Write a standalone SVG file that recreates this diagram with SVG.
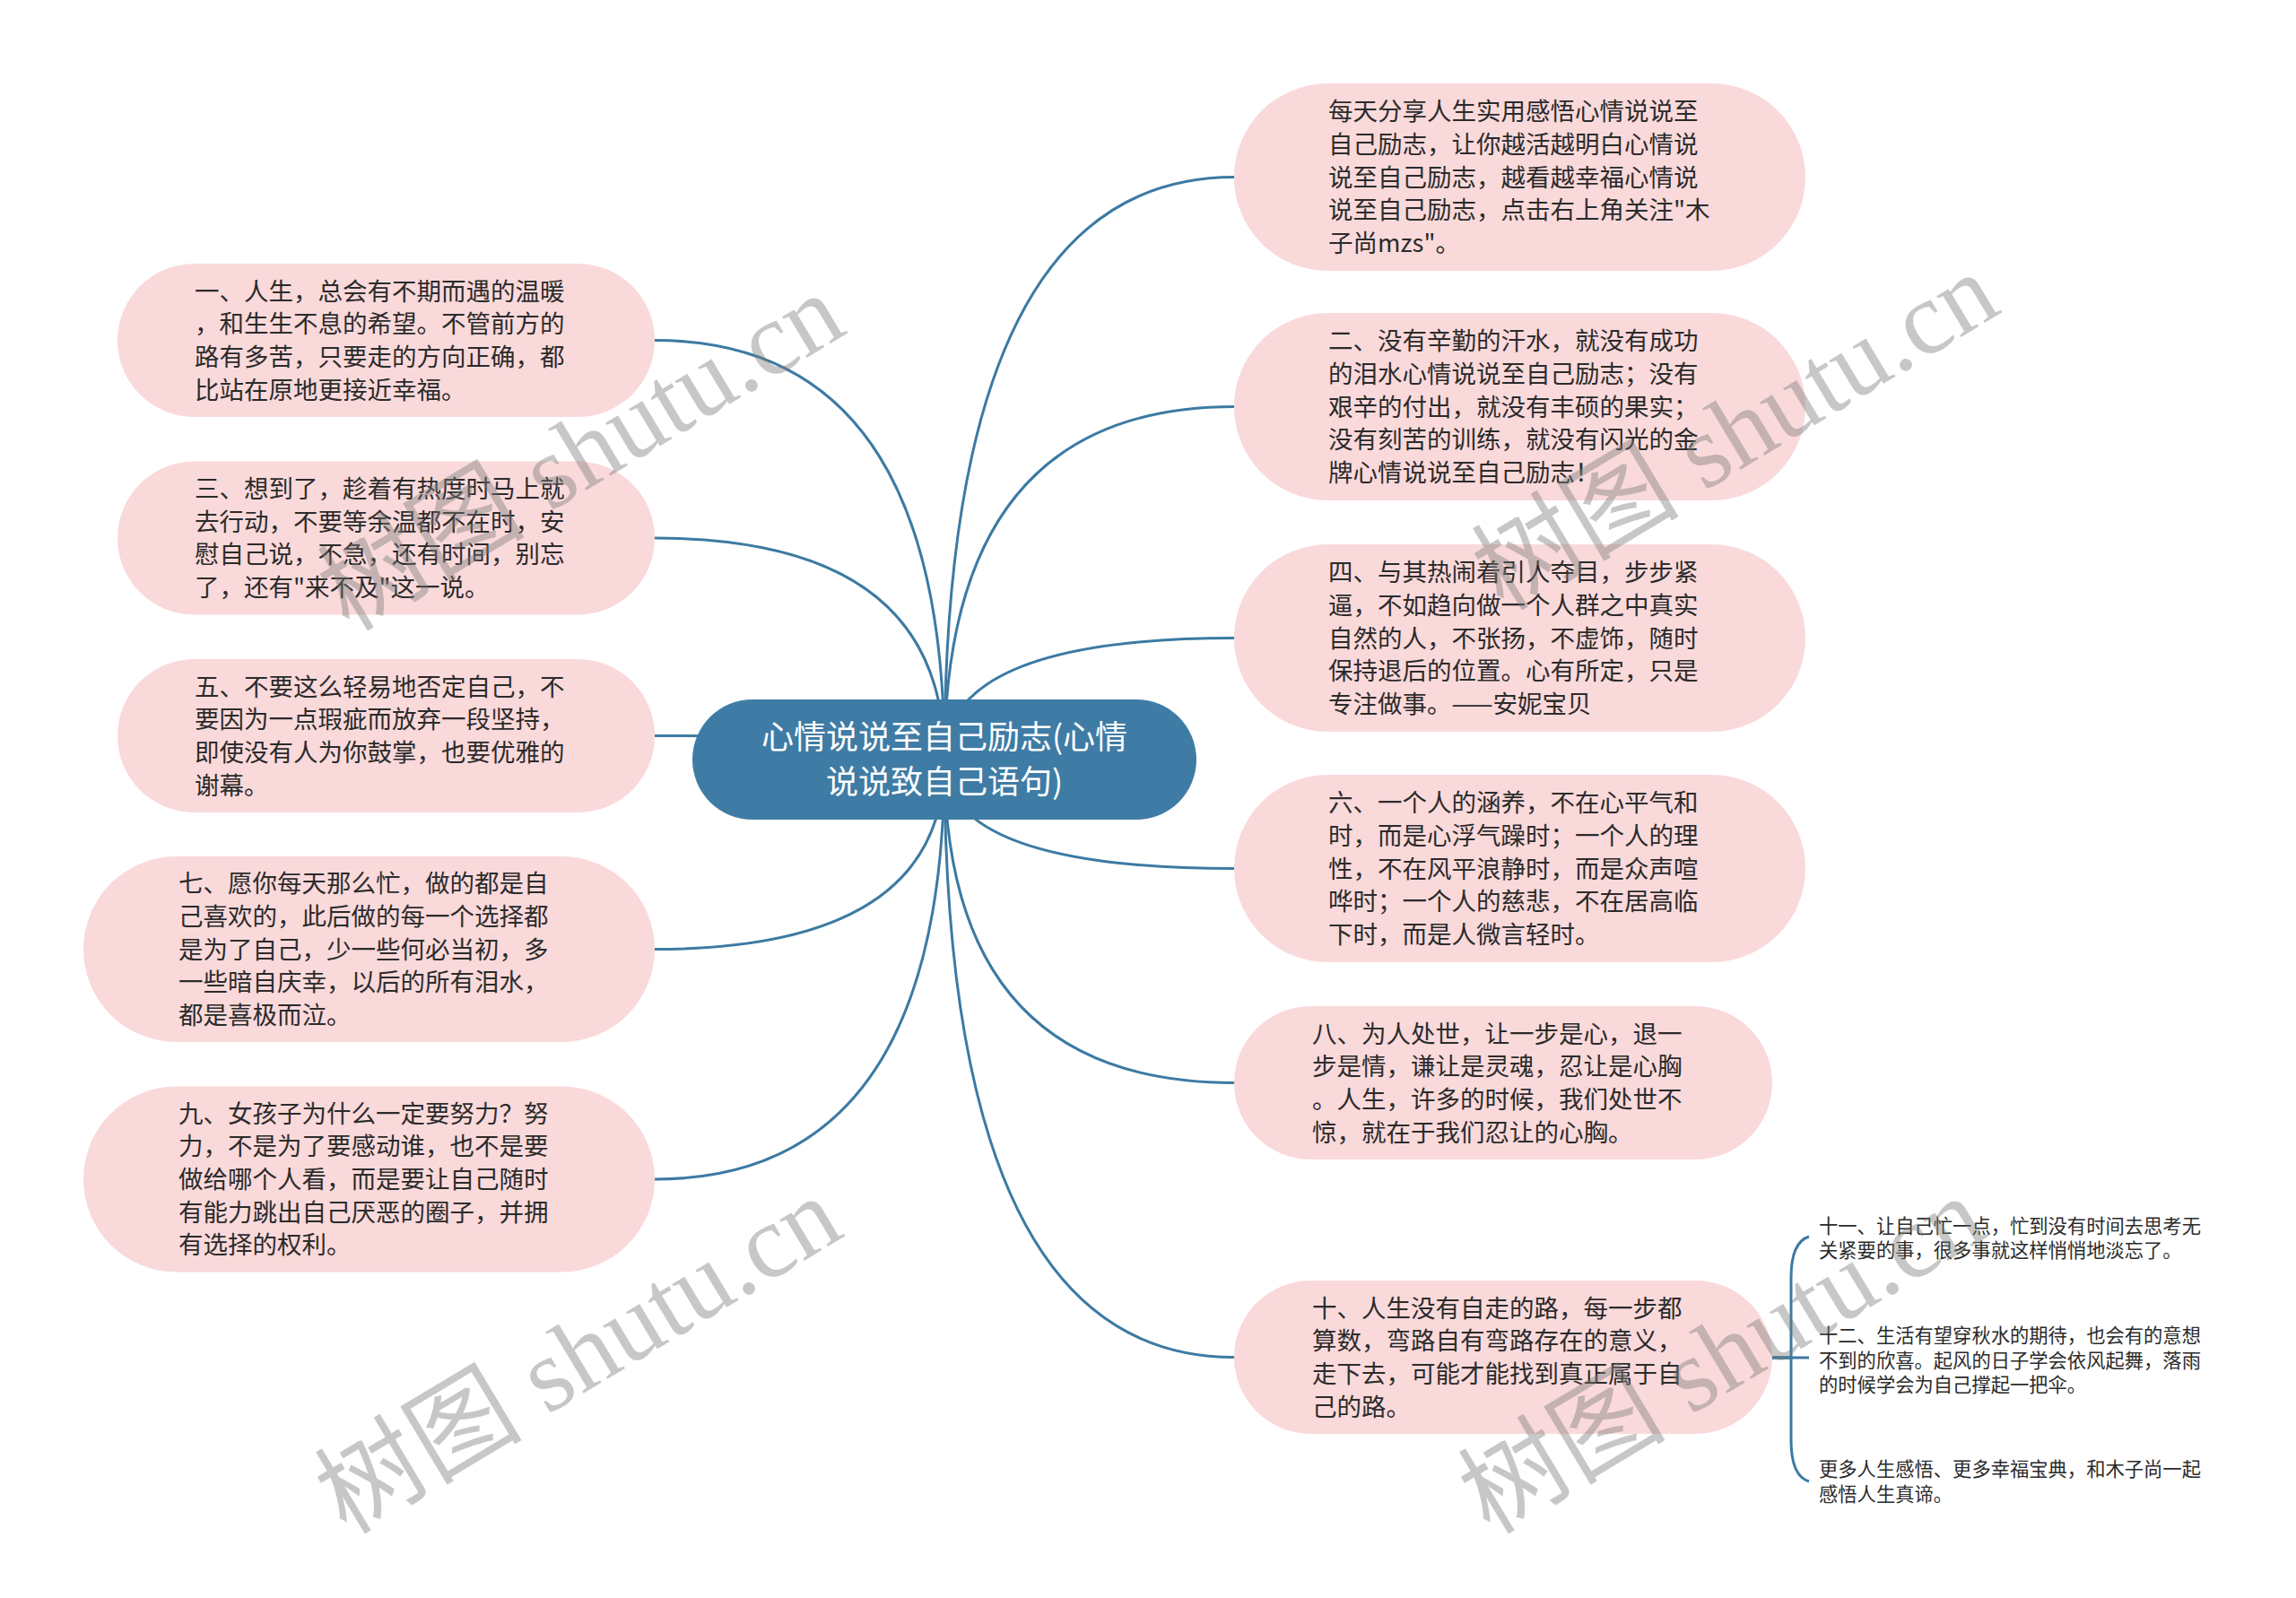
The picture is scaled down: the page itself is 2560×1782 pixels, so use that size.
<svg xmlns="http://www.w3.org/2000/svg" width="2560" height="1782" viewBox="0 0 2560 1782">
<style>
.node{fill:#fad9da;}
.root{fill:#3f7ca5;}
.t{font-family:"Noto Sans CJK SC","Noto Sans",sans-serif;font-size:27.5px;fill:#2b2b2b;}
.rt{font-family:"Noto Sans CJK SC","Noto Sans",sans-serif;font-size:36px;fill:#ffffff;text-anchor:middle;}
.st{font-family:"Noto Sans CJK SC","Noto Sans",sans-serif;font-size:21.3px;fill:#2b2b2b;}
.c{fill:none;stroke:#3c7aa3;stroke-width:3;}
.wm{font-family:"Liberation Serif","Noto Sans CJK SC",serif;font-size:116px;fill:#7a7a7a;fill-opacity:0.42;text-anchor:middle;}
</style>
<rect width="2560" height="1782" fill="#ffffff"/>
<g id="connectors">
<path class="c" d="M1053,847 Q1053,379.5 730,379.5"/>
<path class="c" d="M1053,847 Q1053,600 730,600"/>
<path class="c" d="M1053,847 Q1053,820.5 730,820.5"/>
<path class="c" d="M1053,847 Q1053,1058.5 730,1058.5"/>
<path class="c" d="M1053,847 Q1053,1315 730,1315"/>
<path class="c" d="M1053,847 Q1053,197.5 1376,197.5"/>
<path class="c" d="M1053,847 Q1053,453.5 1376,453.5"/>
<path class="c" d="M1053,847 Q1053,711.5 1376,711.5"/>
<path class="c" d="M1053,847 Q1053,968.5 1376,968.5"/>
<path class="c" d="M1053,847 Q1053,1207.5 1376,1207.5"/>
<path class="c" d="M1053,847 Q1053,1513.5 1376,1513.5"/>
<path class="c" d="M1976,1514 H2017"/>
<path class="c" d="M1976,1514 H1997 V1425 C1997,1398 2004,1383 2017,1379"/>
<path class="c" d="M1976,1514 H1997 V1606 C1997,1633 2004,1648 2017,1652"/>
</g>
<g id="root">
<rect class="root" x="772" y="780" width="562" height="134" rx="67"/>
<text class="rt" x="1053" y="835">心情说说至自己励志(心情</text>
<text class="rt" x="1053" y="885">说说致自己语句)</text>
</g>
<g id="n1">
<rect class="node" x="131" y="294" width="599" height="171" rx="85.5"/>
<text class="t" x="217" y="334.5">一、人生，总会有不期而遇的温暖</text>
<text class="t" x="217" y="371.2">，和生生不息的希望。不管前方的</text>
<text class="t" x="217" y="407.9">路有多苦，只要走的方向正确，都</text>
<text class="t" x="217" y="444.6">比站在原地更接近幸福。</text>
</g>
<g id="n3">
<rect class="node" x="131" y="514.5" width="599" height="171" rx="85.5"/>
<text class="t" x="217" y="555">三、想到了，趁着有热度时马上就</text>
<text class="t" x="217" y="591.7">去行动，不要等余温都不在时，安</text>
<text class="t" x="217" y="628.4">慰自己说，不急，还有时间，别忘</text>
<text class="t" x="217" y="665.1">了，还有"来不及"这一说。</text>
</g>
<g id="n5">
<rect class="node" x="131" y="735" width="599" height="171" rx="85.5"/>
<text class="t" x="217" y="775.5">五、不要这么轻易地否定自己，不</text>
<text class="t" x="217" y="812.2">要因为一点瑕疵而放弃一段坚持，</text>
<text class="t" x="217" y="848.9">即使没有人为你鼓掌，也要优雅的</text>
<text class="t" x="217" y="885.6">谢幕。</text>
</g>
<g id="n7">
<rect class="node" x="93" y="955" width="637" height="207" rx="103.5"/>
<text class="t" x="199" y="995.1">七、愿你每天那么忙，做的都是自</text>
<text class="t" x="199" y="1031.8">己喜欢的，此后做的每一个选择都</text>
<text class="t" x="199" y="1068.5">是为了自己，少一些何必当初，多</text>
<text class="t" x="199" y="1105.2">一些暗自庆幸，以后的所有泪水，</text>
<text class="t" x="199" y="1141.9">都是喜极而泣。</text>
</g>
<g id="n9">
<rect class="node" x="93" y="1211.5" width="637" height="207" rx="103.5"/>
<text class="t" x="199" y="1251.6">九、女孩子为什么一定要努力？努</text>
<text class="t" x="199" y="1288.3">力，不是为了要感动谁，也不是要</text>
<text class="t" x="199" y="1325">做给哪个人看，而是要让自己随时</text>
<text class="t" x="199" y="1361.7">有能力跳出自己厌恶的圈子，并拥</text>
<text class="t" x="199" y="1398.4">有选择的权利。</text>
</g>
<g id="r0">
<rect class="node" x="1376" y="93" width="637" height="209" rx="104.5"/>
<text class="t" x="1481" y="134.1">每天分享人生实用感悟心情说说至</text>
<text class="t" x="1481" y="170.8">自己励志，让你越活越明白心情说</text>
<text class="t" x="1481" y="207.5">说至自己励志，越看越幸福心情说</text>
<text class="t" x="1481" y="244.2">说至自己励志，点击右上角关注"木</text>
<text class="t" x="1481" y="280.9">子尚mzs"。</text>
</g>
<g id="r2">
<rect class="node" x="1376" y="349" width="637" height="209" rx="104.5"/>
<text class="t" x="1481" y="390.1">二、没有辛勤的汗水，就没有成功</text>
<text class="t" x="1481" y="426.8">的泪水心情说说至自己励志；没有</text>
<text class="t" x="1481" y="463.5">艰辛的付出，就没有丰硕的果实；</text>
<text class="t" x="1481" y="500.2">没有刻苦的训练，就没有闪光的金</text>
<text class="t" x="1481" y="536.9">牌心情说说至自己励志！</text>
</g>
<g id="r4">
<rect class="node" x="1376" y="607" width="637" height="209" rx="104.5"/>
<text class="t" x="1481" y="648.1">四、与其热闹着引人夺目，步步紧</text>
<text class="t" x="1481" y="684.8">逼，不如趋向做一个人群之中真实</text>
<text class="t" x="1481" y="721.5">自然的人，不张扬，不虚饰，随时</text>
<text class="t" x="1481" y="758.2">保持退后的位置。心有所定，只是</text>
<text class="t" x="1481" y="794.9">专注做事。——安妮宝贝</text>
</g>
<g id="r6">
<rect class="node" x="1376" y="864" width="637" height="209" rx="104.5"/>
<text class="t" x="1481" y="905.1">六、一个人的涵养，不在心平气和</text>
<text class="t" x="1481" y="941.8">时，而是心浮气躁时；一个人的理</text>
<text class="t" x="1481" y="978.5">性，不在风平浪静时，而是众声喧</text>
<text class="t" x="1481" y="1015.2">哗时；一个人的慈悲，不在居高临</text>
<text class="t" x="1481" y="1051.9">下时，而是人微言轻时。</text>
</g>
<g id="r8">
<rect class="node" x="1376" y="1122" width="600" height="171" rx="85.5"/>
<text class="t" x="1463" y="1162.5">八、为人处世，让一步是心，退一</text>
<text class="t" x="1463" y="1199.2">步是情，谦让是灵魂，忍让是心胸</text>
<text class="t" x="1463" y="1235.9">。人生，许多的时候，我们处世不</text>
<text class="t" x="1463" y="1272.6">惊，就在于我们忍让的心胸。</text>
</g>
<g id="r10">
<rect class="node" x="1376" y="1428" width="600" height="171" rx="85.5"/>
<text class="t" x="1463" y="1468.5">十、人生没有自走的路，每一步都</text>
<text class="t" x="1463" y="1505.2">算数，弯路自有弯路存在的意义，</text>
<text class="t" x="1463" y="1541.9">走下去，可能才能找到真正属于自</text>
<text class="t" x="1463" y="1578.6">己的路。</text>
</g>
<g id="s11">
<text class="st" x="2028" y="1375">十一、让自己忙一点，忙到没有时间去思考无</text>
<text class="st" x="2028" y="1402">关紧要的事，很多事就这样悄悄地淡忘了。</text>
</g>
<g id="s12">
<text class="st" x="2028" y="1497">十二、生活有望穿秋水的期待，也会有的意想</text>
<text class="st" x="2028" y="1525">不到的欣喜。起风的日子学会依风起舞，落雨</text>
<text class="st" x="2028" y="1552">的时候学会为自己撑起一把伞。</text>
</g>
<g id="s13">
<text class="st" x="2028" y="1646">更多人生感悟、更多幸福宝典，和木子尚一起</text>
<text class="st" x="2028" y="1674">感悟人生真谛。</text>
</g>
<g id="watermarks">
<text class="wm" transform="translate(668,538) rotate(-31)">树图 shutu.cn</text>
<text class="wm" transform="translate(665,1545) rotate(-31)">树图 shutu.cn</text>
<text class="wm" transform="translate(1955,515) rotate(-31)">树图 shutu.cn</text>
<text class="wm" transform="translate(1940,1545) rotate(-31)">树图 shutu.cn</text>
</g>
</svg>
